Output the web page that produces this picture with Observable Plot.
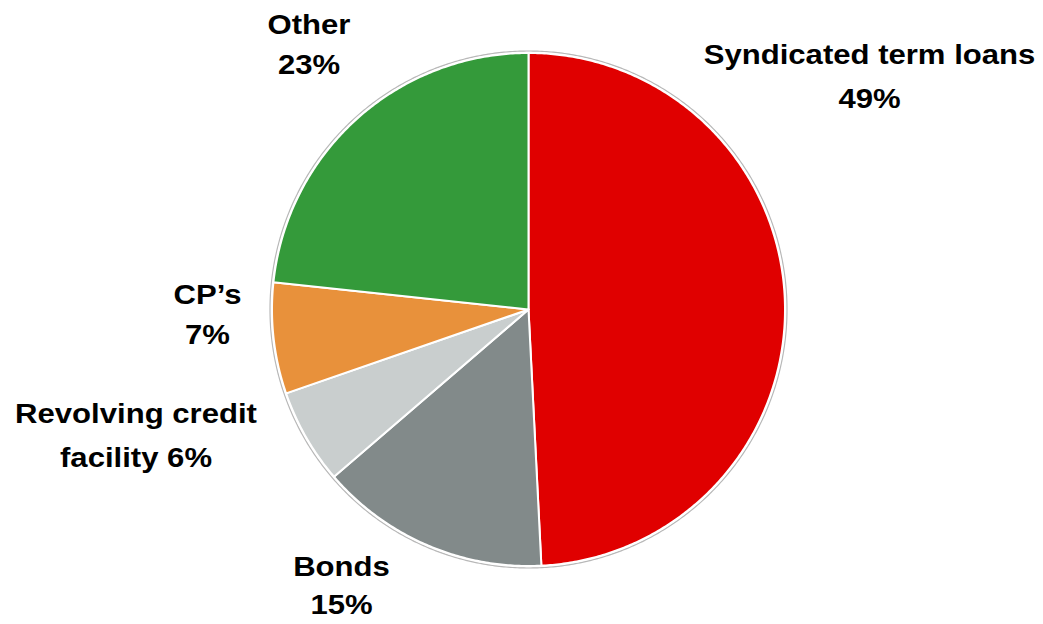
<!DOCTYPE html>
<html><head><meta charset="utf-8">
<script src="https://cdn.jsdelivr.net/npm/d3@7"></script>
<script src="https://cdn.jsdelivr.net/npm/@observablehq/plot@0.6"></script>
<style>html,body{margin:0;padding:0;background:#fff;overflow:hidden}</style>
</head><body><div id="chart"></div>
<script>
// ---- data ----
const categories = ["Syndicated term loans", "Bonds", "Revolving credit facility", "CP’s", "Other"];
const shares = [49.2, 14.5, 6.0, 7.0, 23.3];
const colors = ["#E00000", "#828A8A", "#C9CECE", "#E8913B", "#349A3A"];
const labelTemplates = ["Syndicated term loans\n{p}%", "Bonds\n{p}%", "Revolving credit\nfacility {p}%", "CP’s\n{p}%", "Other\n{p}%"];

// ---- layout (pixel space) ----
const W = 1043, H = 624;
const cx = 528, cy = 309, R = 256.5;
const labelLayout = [
  {x: 869, y: [63, 107]},
  {x: 341, y: [575.5, 613]},
  {x: 135.5, y: [422.5, 466.5]},
  {x: 207, y: [303, 343]},
  {x: 308.5, y: [33, 73]}
];

// ---- build slice polygons from the data ----
const pie = d3.pie().sort(null).value(d => d.value)(categories.map((c, i) => ({category: c, value: shares[i]})));
const slicePts = [];
for (const a of pie) {
  const cat = a.data.category;
  slicePts.push({category: cat, x: cx, y: cy});
  const n = Math.max(2, Math.ceil((a.endAngle - a.startAngle) / (Math.PI / 360)));
  for (let k = 0; k <= n; k++) {
    const t = a.startAngle + (a.endAngle - a.startAngle) * k / n;
    slicePts.push({category: cat, x: cx + R * Math.sin(t), y: cy - R * Math.cos(t)});
  }
  slicePts.push({category: cat, x: cx, y: cy});
}
const ring = d3.range(0, 721).map(k => {
  const t = 2 * Math.PI * k / 720;
  return {x: cx + (R + 2) * Math.sin(t), y: cy - (R + 2) * Math.cos(t)};
});

const textLines = [];
pie.forEach((a, i) => {
  const pct = Math.round(shares[i]);
  const lines = labelTemplates[i].replace("{p}", pct).split("\n");
  lines.forEach((s, j) => textLines.push({text: s, x: labelLayout[i].x, y: labelLayout[i].y[j]}));
});

const chart = Plot.plot({
  width: W, height: H,
  margin: 0,
  x: {domain: [0, W], range: [0, W], axis: null},
  y: {domain: [0, H], range: [0, H], axis: null},
  color: {domain: categories, range: colors},
  style: {background: "#fff"},
  marks: [
    Plot.line(ring, {x: "x", y: "y", stroke: "#b8b8b8", strokeWidth: 1.2, fill: "none"}),
    Plot.line(slicePts, {x: "x", y: "y", z: "category", fill: "category", stroke: "#fff", strokeWidth: 2, strokeLinejoin: "round"}),
    Plot.text(textLines, {x: "x", y: "y", text: "text", lineAnchor: "bottom", textAnchor: "middle",
      fontSize: 28, fontWeight: "bold", fontFamily: "Liberation Sans, Arial, Helvetica, sans-serif", fill: "#000"})
  ]
});

// widen the bold labels horizontally (as in the reference)
d3.select(chart).selectAll("text").each(function() {
  const el = d3.select(this);
  const tr = el.attr("transform");
  if (tr) {
    el.attr("transform", tr + " scale(1.11,1)");
  } else {
    const x = +el.attr("x") || 0, y = +el.attr("y") || 0;
    el.attr("x", null).attr("y", null).attr("transform", `translate(${x},${y}) scale(1.11,1)`);
  }
});

document.getElementById("chart").appendChild(chart);
</script>
</body></html>
